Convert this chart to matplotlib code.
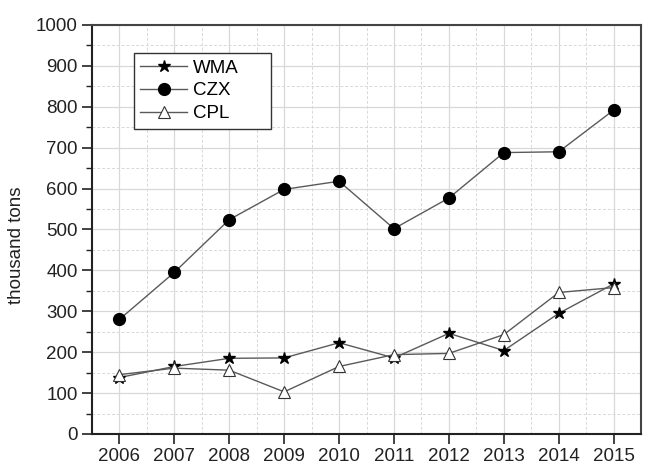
import matplotlib
matplotlib.use("Agg")
import matplotlib.pyplot as plt
from matplotlib.ticker import MultipleLocator

years = [2006, 2007, 2008, 2009, 2010, 2011, 2012, 2013, 2014, 2015]
wma = [138, 165, 185, 186, 223, 186, 246, 204, 295, 367]
czx = [280, 395, 524, 598, 618, 502, 577, 688, 690, 792]
cpl = [145, 161, 156, 103, 165, 194, 197, 243, 346, 358]
ylabel = "thousand tons"

plt.rcParams['font.family'] = ['Liberation Sans', 'DejaVu Sans']

fig = plt.figure(figsize=(6.61, 4.67), dpi=100)
ax = fig.add_axes([0.139, 0.0707, 0.831, 0.8758])

lc = '#5a5a5a'
ax.plot(years, wma, color=lc, lw=1.0, marker='*', ms=9, mfc='black', mec='black', label='WMA', zorder=3)
ax.plot(years, czx, color=lc, lw=1.0, marker='o', ms=8.5, mfc='black', mec='black', label='CZX', zorder=3)
ax.plot(years, cpl, color=lc, lw=1.0, marker='^', ms=9, mfc='white', mec='#333333', mew=0.8, label='CPL', zorder=4)

ax.set_xlim(2005.5, 2015.5)
ax.set_ylim(0, 1000)
ax.set_xticks(years)
ax.xaxis.set_minor_locator(MultipleLocator(0.5))
ax.yaxis.set_major_locator(MultipleLocator(100))
ax.yaxis.set_minor_locator(MultipleLocator(50))

ax.grid(which='major', color='#d8d8d8', lw=0.9, ls='-')
ax.grid(which='minor', color='#d8d8d8', lw=0.7, ls=(0, (3, 2)))
ax.set_axisbelow(True)

ax.tick_params(axis='both', which='major', direction='out', length=7, width=1.2,
               labelsize=13.5, colors='#222222', top=False, right=False)
ax.tick_params(axis='x', which='minor', length=0)
ax.tick_params(axis='y', which='minor', direction='out', length=4, width=1.0, colors='#222222')
ax.tick_params(axis='x', pad=3)
ax.tick_params(axis='y', pad=3)

for s in ax.spines.values():
    s.set_linewidth(1.5)
    s.set_color('#222222')
ax.spines['top'].set_color('#444444')
ax.spines['right'].set_color('#444444')

ax.set_ylabel(ylabel, fontsize=13.5, color='#222222')
ax.yaxis.set_label_coords(-0.122, 0.462)

leg = ax.legend(loc='upper left', bbox_to_anchor=(0.0765, 0.7555, 0.2495, 0.176),
                mode='expand', fontsize=13.5,
                frameon=True, fancybox=False, edgecolor='#333333', framealpha=1,
                handlelength=2.5, handletextpad=0.3, borderpad=0.35, labelspacing=0.3,
                borderaxespad=0)
leg._legend_box.align = 'left'
leg.get_frame().set_linewidth(1.0)
for h in leg.legend_handles:
    pass

fig.savefig('out.png', dpi=100)
